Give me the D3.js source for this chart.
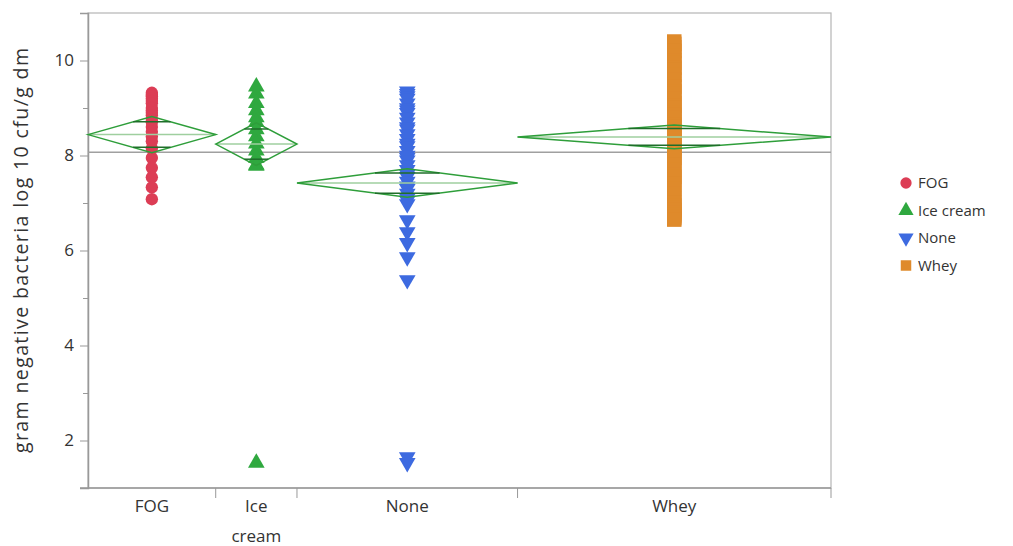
<!DOCTYPE html>
<html lang="en">
<head>
<meta charset="UTF-8">
<title>gram negative bacteria by group</title>
<script src="https://cdnjs.cloudflare.com/ajax/libs/d3/7.8.5/d3.min.js"></script>
<style>
    body { margin: 0; background: #fff; }
    text { font-family: "Open Sans", "Noto Sans", sans-serif; fill: #333; }
</style>
</head>
<body>
<svg width="1013" height="546"></svg>
<script>
    // data
    var groups = ["FOG", "Ice cream", "None", "Whey"];
    var colors = ["#dc3d55", "#2fa83f", "#3d6ae0", "#df8a2b"];

    var fog = [9.32, 9.28, 9.25, 9.2, 9.15, 9.1, 9.0, 8.95, 8.9, 8.85, 8.75, 8.7, 8.6, 8.5,
        8.4, 8.3, 8.15, 7.95, 7.74, 7.54, 7.33, 7.08];
    var iceCream = [9.45, 9.3, 9.1, 8.95, 8.8, 8.7, 8.55, 8.4, 8.25, 8.1, 7.95, 7.8, 7.78, 1.53];
    var none = [9.35, 9.3, 9.25, 9.2, 9.1, 9.0, 8.95, 8.9, 8.8, 8.7, 8.6, 8.55, 8.45, 8.35,
        8.25, 8.2, 8.1, 8.0, 7.95, 7.9, 7.8, 7.7, 7.6, 7.55, 7.45, 7.35, 7.3, 7.2, 7.1, 7.05,
        6.98, 6.64, 6.39, 6.16, 5.86, 5.38, 1.65, 1.53];
    var whey = [10.4, 10.35, 10.28, 10.2, 10.1, 10.0, 9.95, 9.85, 9.8, 9.7, 9.6, 9.5, 9.45,
        9.35, 9.3, 9.2, 9.1, 9.05, 9.0, 8.9, 8.85, 8.8, 8.7, 8.65, 8.6, 8.5, 8.45, 8.4, 8.35,
        8.3, 8.2, 8.15, 8.1, 8.0, 7.95, 7.9, 7.8, 7.7, 7.6, 7.55, 7.5, 7.4, 7.3, 7.2, 7.1, 7.0,
        6.95, 6.9, 6.85, 6.8, 6.76, 6.72, 6.68, 6.65];

    var groupMeans = [8.44, 8.24, 7.42, 8.39];
    var ciHalf = [0.38, 0.45, 0.3, 0.25];
    var grandMean = 8.07;
    var yTicks = [2, 4, 6, 8, 10];

    var series = [fog, iceCream, none, whey];

    var svg = d3.select("svg");
    var plotLeft = 88, plotRight = 831, plotTop = 13, plotBottom = 488;

    var y = d3.scaleLinear().domain([1, 11]).range([plotBottom, plotTop]);

    // group widths follow the counts
    var counts = series.map(function (s) { return s.length; });
    var starts = [0];
    counts.forEach(function (c, i) { starts.push(starts[i] + c); });
    var x = d3.scaleLinear().domain([0, starts[starts.length - 1]]).range([plotLeft, plotRight]);

    // frame
    svg.append("rect")
        .attr("x", plotLeft).attr("y", plotTop)
        .attr("width", plotRight - plotLeft).attr("height", plotBottom - plotTop)
        .attr("fill", "none").attr("stroke", "#b5b5b5").attr("stroke-width", 1.2);

    // y axis
    var yAxis = svg.append("g")
        .attr("transform", "translate(" + plotLeft + ",0)")
        .call(d3.axisLeft(y).tickValues(yTicks).tickSize(8).tickPadding(6).tickFormat(d3.format("d")));
    yAxis.select(".domain").attr("stroke", "#999").attr("stroke-width", 1.5);
    yAxis.selectAll(".tick line").attr("stroke", "#999");
    yAxis.selectAll("text").style("font-size", "17px").attr("fill", "#333");

    svg.append("g")
        .attr("transform", "translate(" + plotLeft + ",0)")
        .call(d3.axisLeft(y).tickValues([3, 5, 7, 9]).tickSize(5).tickFormat(""))
        .call(function (g) { g.select(".domain").remove(); g.selectAll("line").attr("stroke", "#999"); });

    // x axis
    svg.append("line")
        .attr("x1", plotLeft - 8).attr("x2", plotRight)
        .attr("y1", plotBottom).attr("y2", plotBottom)
        .attr("stroke", "#999").attr("stroke-width", 1.5);

    svg.selectAll(".xtick")
        .data(starts.slice(1))
        .enter().append("line")
        .attr("class", "xtick")
        .attr("x1", function (d) { return x(d); })
        .attr("x2", function (d) { return x(d); })
        .attr("y1", plotBottom).attr("y2", plotBottom + 10)
        .attr("stroke", "#999");

    var xLabels = svg.selectAll(".xlabel")
        .data(groups)
        .enter().append("text")
        .attr("class", "xlabel")
        .attr("text-anchor", "middle")
        .style("font-size", "17px")
        .attr("y", plotBottom + 24);
    xLabels.each(function (d, i) {
        var cx = x(starts[i] + counts[i] / 2);
        var words = d.split(" ");
        var t = d3.select(this);
        words.forEach(function (w, k) {
            t.append("tspan").attr("x", cx).attr("dy", k === 0 ? 0 : 30).text(w);
        });
    });

    // y label
    svg.append("text")
        .attr("transform", "translate(28," + ((plotTop + plotBottom) / 2) + ") rotate(-90)")
        .attr("text-anchor", "middle")
        .attr("textLength", 405)
        .attr("lengthAdjust", "spacing")
        .style("font-size", "19.5px")
        .text("gram negative bacteria log 10 cfu/g dm");

    // grand mean
    svg.append("line")
        .attr("x1", plotLeft).attr("x2", plotRight)
        .attr("y1", y(grandMean)).attr("y2", y(grandMean))
        .attr("stroke", "#a0a0a0").attr("stroke-width", 1.5);

    var symbols = [
        d3.symbol().type(d3.symbolCircle).size(120),
        d3.symbol().type(d3.symbolTriangle).size(120),
        d3.symbol().type(d3.symbolTriangle).size(120),
        d3.symbol().type(d3.symbolSquare).size(210)
    ];

    // points
    series.forEach(function (s, i) {
        var cx = x(starts[i] + counts[i] / 2);
        svg.append("g").selectAll("path")
            .data(s)
            .enter().append("path")
            .attr("d", symbols[i])
            .attr("fill", colors[i])
            .attr("transform", function (d) {
                return "translate(" + cx + "," + y(d) + ")" + (i === 2 ? " rotate(180)" : "");
            });
    });

    // means diamonds
    groups.forEach(function (g, i) {
        var x0 = x(starts[i]), x1 = x(starts[i + 1]), cx = (x0 + x1) / 2;
        var m = groupMeans[i], h = ciHalf[i];
        var grp = svg.append("g");
        grp.append("line")
            .attr("x1", x0).attr("x2", x1)
            .attr("y1", y(m)).attr("y2", y(m))
            .attr("stroke", "#9fcf9f").attr("stroke-width", 1.5);
        grp.append("path")
            .attr("d", "M" + x0 + "," + y(m) + "L" + cx + "," + y(m + h) + "L" + x1 + "," + y(m) +
                "L" + cx + "," + y(m - h) + "Z")
            .attr("fill", "none").attr("stroke", "#2e9e3a").attr("stroke-width", 1.5);
        var ov = h * Math.SQRT1_2, half = (x1 - x0) / 2 * (1 - Math.SQRT1_2);
        [m + ov, m - ov].forEach(function (v) {
            grp.append("line")
                .attr("x1", cx - half).attr("x2", cx + half)
                .attr("y1", y(v)).attr("y2", y(v))
                .attr("stroke", "#1f6e2a").attr("stroke-width", 1.5);
        });
    });

    // legend
    var legend = svg.append("g").attr("transform", "translate(906,183)");
    var legendSymbols = [
        d3.symbol().type(d3.symbolCircle).size(100),
        d3.symbol().type(d3.symbolTriangle).size(100),
        d3.symbol().type(d3.symbolTriangle).size(100),
        d3.symbol().type(d3.symbolSquare).size(110)
    ];
    groups.forEach(function (g, i) {
        var row = legend.append("g").attr("transform", "translate(0," + (i * 27.5) + ")");
        row.append("path")
            .attr("d", legendSymbols[i])
            .attr("fill", colors[i])
            .attr("transform", i === 2 ? "rotate(180)" : null);
        row.append("text")
            .attr("x", 12).attr("dy", "0.35em")
            .style("font-size", "15px")
            .text(g);
    });
</script>
</body>
</html>
